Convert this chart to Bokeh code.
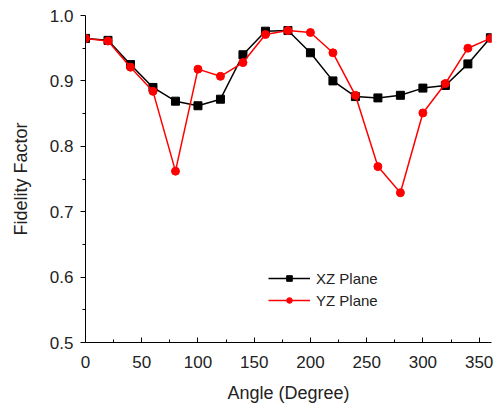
from bokeh.plotting import figure
from bokeh.models import Range1d, FixedTicker, Legend, LegendItem, NumeralTickFormatter
from bokeh.embed import file_html
from bokeh.resources import INLINE

angles = [0, 20, 40, 60, 80, 100, 120, 140, 160, 180, 200, 220, 240, 260, 280, 300, 320, 340, 360]
xz_plane = [0.965, 0.962, 0.925, 0.890, 0.869, 0.862, 0.872, 0.940, 0.976, 0.977, 0.943, 0.900,
            0.876, 0.874, 0.878, 0.889, 0.893, 0.926, 0.966]
yz_plane = [0.965, 0.961, 0.921, 0.884, 0.762, 0.918, 0.907, 0.928, 0.971, 0.977, 0.974, 0.943,
            0.878, 0.769, 0.729, 0.851, 0.896, 0.950, 0.965]
x_ticks = [0, 50, 100, 150, 200, 250, 300, 350]
y_ticks = [0.5, 0.6, 0.7, 0.8, 0.9, 1.0]

FONT = "Liberation Sans"

p = figure(width=499, height=409, output_backend="svg", toolbar_location=None,
           x_range=Range1d(0, 361), y_range=Range1d(0.5, 1.0),
           min_border_left=85, min_border_right=8, min_border_top=15, min_border_bottom=67)
p.outline_line_color = None
p.xgrid.visible = False
p.ygrid.visible = False

for ax in (p.xaxis[0], p.yaxis[0]):
    ax.axis_line_color = "black"
    ax.axis_line_width = 1
    ax.major_tick_line_color = "black"
    ax.minor_tick_line_color = "black"
    ax.major_label_text_font = FONT
    ax.major_label_text_font_size = "17px"
    ax.major_label_text_color = "#222222"
    ax.axis_label_text_font = FONT
    ax.axis_label_text_font_size = "18px"
    ax.axis_label_text_font_style = "normal"
    ax.axis_label_text_color = "#222222"

# x axis: ticks point into the plot
p.xaxis.major_tick_in = 5
p.xaxis.major_tick_out = 0
p.xaxis.minor_tick_in = 3
p.xaxis.minor_tick_out = 0
# y axis: ticks point outward
p.yaxis.major_tick_in = 0
p.yaxis.major_tick_out = 5
p.yaxis.minor_tick_in = 0
p.yaxis.minor_tick_out = 3

p.xaxis.ticker = FixedTicker(ticks=x_ticks, minor_ticks=[25, 75, 125, 175, 225, 275, 325])
p.yaxis.ticker = FixedTicker(ticks=y_ticks, minor_ticks=[0.55, 0.65, 0.75, 0.85, 0.95])
p.yaxis.formatter = NumeralTickFormatter(format="0.0")
p.xaxis.axis_label = "Angle (Degree)"
p.yaxis.axis_label = "Fidelity Factor"
p.xaxis.major_label_standoff = 13
p.xaxis.axis_label_standoff = 12
p.yaxis.major_label_standoff = 7
p.yaxis.axis_label_standoff = 16

p.line(angles, xz_plane, line_color="black", line_width=1.5)
p.scatter(angles, xz_plane, marker="square", size=8, fill_color="black", line_color="black")
p.line(angles, yz_plane, line_color="#ff0000", line_width=1.5)
p.scatter(angles, yz_plane, marker="circle", size=8, fill_color="#ff0000", line_color="#ff0000")

# legend-only glyphs, placed outside the visible ranges
off = [-1000]
lg1 = p.line(off, off, line_color="black", line_width=1.5)
lm1 = p.scatter(off, off, marker="square", size=5, fill_color="black", line_color="black")
lg2 = p.line(off, off, line_color="#ff0000", line_width=1.5)
lm2 = p.scatter(off, off, marker="circle", size=6, fill_color="#ff0000", line_color="#ff0000")

legend = Legend(items=[LegendItem(label="XZ Plane", renderers=[lg1, lm1]),
                       LegendItem(label="YZ Plane", renderers=[lg2, lm2])],
                location=(183, 32))
legend.background_fill_alpha = 0
legend.border_line_color = None
legend.padding = 0
legend.margin = 0
legend.spacing = 2
legend.glyph_width = 42
legend.glyph_height = 14
legend.label_height = 20
legend.label_standoff = 6
legend.label_text_font = FONT
legend.label_text_font_size = "15px"
legend.label_text_color = "#222222"
p.add_layout(legend, "center")

open("out.html", "w").write(file_html(p, INLINE))
